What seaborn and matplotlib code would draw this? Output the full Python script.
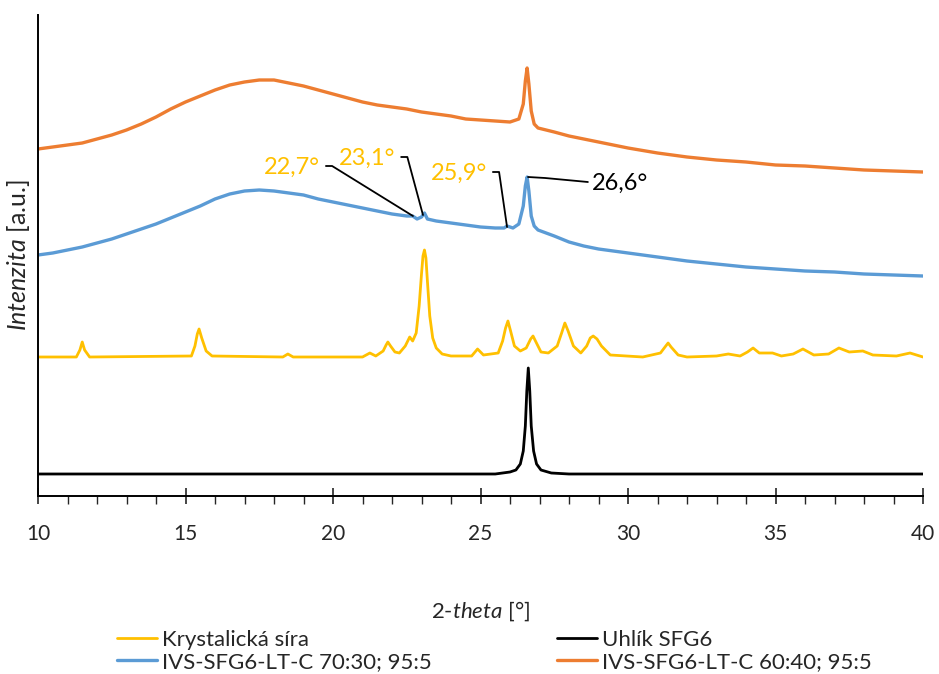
import matplotlib
matplotlib.use("Agg")
import matplotlib.pyplot as plt
from matplotlib.ticker import MultipleLocator
import seaborn as sns
import pandas as pd

# values (intensity in arbitrary units, stacked)
theta_orange = [10, 10.5, 11, 11.5, 12, 12.5, 13, 13.5, 14, 14.5, 15, 15.5, 16, 16.5, 17,
                17.5, 18, 18.5, 19, 19.5, 20, 20.5, 21, 21.5, 22, 22.5, 23, 23.5, 24, 24.5,
                25, 25.5, 26, 26.3, 26.45, 26.52, 26.58, 26.64, 26.72, 26.82, 26.95, 27.5,
                28, 28.5, 29, 30, 31, 32, 33, 34, 35, 36, 37, 38, 39, 40]
int_orange = [347, 349, 351, 353, 357, 361, 366, 372, 379, 387, 394, 400, 406, 411, 414,
              416, 416, 413, 410, 406, 402, 398, 394, 391, 389, 387, 384, 382, 380, 377,
              376, 375, 374, 377, 392, 415, 428, 412, 385, 372, 368, 364,
              360, 357, 354, 348, 343, 339, 336, 334, 331, 330, 328, 326, 325, 324]

theta_blue = [10, 10.5, 11, 11.5, 12, 12.5, 13, 13.5, 14, 14.5, 15, 15.5, 16, 16.5, 17,
              17.5, 18, 18.5, 19, 19.5, 20, 20.5, 21, 21.5, 22, 22.5, 22.7, 22.85, 23.0,
              23.1, 23.2, 23.5, 24, 24.5, 25, 25.5, 25.8, 25.9, 26.1, 26.3, 26.45, 26.52,
              26.58, 26.64, 26.72, 26.82, 26.95, 27.5, 28, 28.5, 29, 30, 31, 32, 33, 34,
              35, 36, 37, 38, 39, 40]
int_blue = [241, 243, 246, 249, 253, 257, 262, 267, 272, 278, 284, 290, 297, 302, 305,
            306, 305, 303, 301, 297, 294, 291, 288, 285, 282, 280, 280, 277, 279,
            283, 277, 275, 273, 271, 269, 268, 268, 270, 268, 272, 290, 310,
            319, 305, 280, 270, 266, 260, 254, 250, 247, 243, 239, 235, 232, 229,
            227, 225, 224, 222, 221, 220]

theta_yellow = [10, 11.3, 11.42, 11.5, 11.58, 11.75, 15.2, 15.32, 15.4, 15.46, 15.55, 15.7,
                15.9, 18.3, 18.47, 18.65, 21.0, 21.25, 21.45, 21.7, 21.8, 21.86, 21.95,
                22.1, 22.25, 22.45, 22.6, 22.7, 22.82, 22.92, 23.0, 23.05, 23.1, 23.15,
                23.2, 23.28, 23.38, 23.5, 23.7, 24.0, 24.7, 24.9, 25.1, 25.6, 25.75, 25.85,
                25.93, 26.02, 26.15, 26.35, 26.55, 26.7, 26.78, 26.88, 27.05, 27.3, 27.6,
                27.75, 27.86, 27.97, 28.15, 28.4, 28.6, 28.72, 28.82, 28.95, 29.1, 29.4,
                30.5, 31.1, 31.28, 31.36, 31.46, 31.7, 32.0, 33.0, 33.4, 33.8, 34.05, 34.24,
                34.45, 34.9, 35.2, 35.6, 35.93, 36.3, 36.8, 37.15, 37.5, 37.96, 38.3, 39.1,
                39.56, 40]
int_yellow = [139, 139, 146, 154, 146, 139, 140, 150, 162, 167, 158, 145,
              140, 139, 142, 139, 139, 143, 140, 145, 151, 154, 150,
              144, 143, 150, 159, 155, 163, 190, 222, 240, 246, 238,
              215, 180, 158, 148, 142, 140, 140, 147, 141, 143, 155, 168,
              175, 165, 150, 145, 148, 157, 160, 154, 144, 143, 150,
              163, 173, 165, 150, 143, 150, 158, 160, 157, 150, 141,
              139, 143, 150, 153, 149, 141, 139, 140, 142, 140, 144, 148,
              143, 143, 140, 142, 147, 141, 142, 148, 144, 145, 141, 140,
              143, 139]

theta_black = [10, 25.5, 26.0, 26.2, 26.35, 26.45, 26.52, 26.57, 26.62, 26.67, 26.72, 26.8,
               26.9, 27.05, 27.4, 28, 40]
int_black = [22, 22, 24, 26, 32, 45, 70, 105, 128, 105, 70, 45, 32, 26, 23, 22, 22]

series_names = ["Krystalická síra", "IVS-SFG6-LT-C 70:30; 95:5",
                "Uhlík SFG6", "IVS-SFG6-LT-C 60:40; 95:5"]
series_colors = ["#FFC000", "#5B9BD5", "#000000", "#ED7D31"]

peak_labels = ["22,7°", "23,1°", "25,9°", "26,6°"]
peak_theta = [22.71, 23.05, 25.90, 26.61]
peak_int = [280, 281, 269, 319]
label_colors = ["#FFC000", "#FFC000", "#FFC000", "#000000"]

sns.set_style("white")
plt.rcParams['font.family'] = ['Lato', 'DejaVu Sans']
plt.rcParams['mathtext.fontset'] = 'custom'
plt.rcParams['mathtext.it'] = 'Lato:italic'
plt.rcParams['mathtext.rm'] = 'Lato'

fig = plt.figure(figsize=(9.39, 6.74), dpi=100)
ax = fig.add_axes([38 / 939, 1 - 496 / 674, (923 - 38) / 939, (496 - 15) / 674])

frames = {
    "Krystalická síra": (theta_yellow, int_yellow),
    "IVS-SFG6-LT-C 70:30; 95:5": (theta_blue, int_blue),
    "Uhlík SFG6": (theta_black, int_black),
    "IVS-SFG6-LT-C 60:40; 95:5": (theta_orange, int_orange),
}
for name, col in zip(series_names, series_colors):
    tx, iy = frames[name]
    df = pd.DataFrame({"theta": tx, "intensity": iy})
    lw = 2.4 if col in ("#5B9BD5", "#ED7D31") else 2.0
    sns.lineplot(data=df, x="theta", y="intensity", color=col, lw=lw, sort=False,
                 ax=ax, label=name)

# leader lines: elbow point near the label, then a straight line to the peak
elbow_x = [19.76, 22.31, 25.42, 27.19]
elbow_y = [330, 339, 324, 318]
for lab, px, py, ex, ey, c in zip(peak_labels, peak_theta, peak_int, elbow_x, elbow_y, label_colors):
    if ex < px:
        xs, ys = [ex, ex + 0.21, px], [ey, ey, py]
        ax.text(ex - 0.2, ey - 1, lab, color=c, fontsize=17, ha="right", va="center")
    else:
        xs, ys = [px, ex, ex + 1.45], [py, ey, ey - 4]
        ax.text(ex + 1.59, ey - 5, lab, color=c, fontsize=17, ha="left", va="center")
    ax.plot(xs, ys, color="black", lw=1.3)

ax.set_xlim(10, 40)
ax.set_ylim(0, 481)
ax.xaxis.set_major_locator(MultipleLocator(5))
ax.xaxis.set_minor_locator(MultipleLocator(1))
ax.tick_params(axis="x", which="major", direction="inout", length=12, width=1.2,
               labelsize=15, pad=14, bottom=True)
ax.tick_params(axis="x", which="minor", direction="out", length=6, width=1.0, bottom=True)
ax.set_yticks([])
for s in ["top", "right"]:
    ax.spines[s].set_visible(False)
for s in ["left", "bottom"]:
    ax.spines[s].set_color("black")
    ax.spines[s].set_linewidth(1.4)

ax.set_xlabel(r"$\it{2\text{-}theta}$ [°]", fontsize=16, labelpad=40)
ax.set_ylabel(r"$\it{Intenzita}$ [a.u.]", fontsize=18, labelpad=4)

handles, labels = ax.get_legend_handles_labels()
ax.legend_.remove()
fig.legend(handles, labels, ncol=2, loc="upper left", bbox_to_anchor=(108 / 939, 1 - 621 / 674),
           frameon=False, fontsize=16, handlelength=1.8, handletextpad=0.25,
           columnspacing=5.6, labelspacing=0.1, borderaxespad=0)

fig.savefig("out.png", dpi=100)
